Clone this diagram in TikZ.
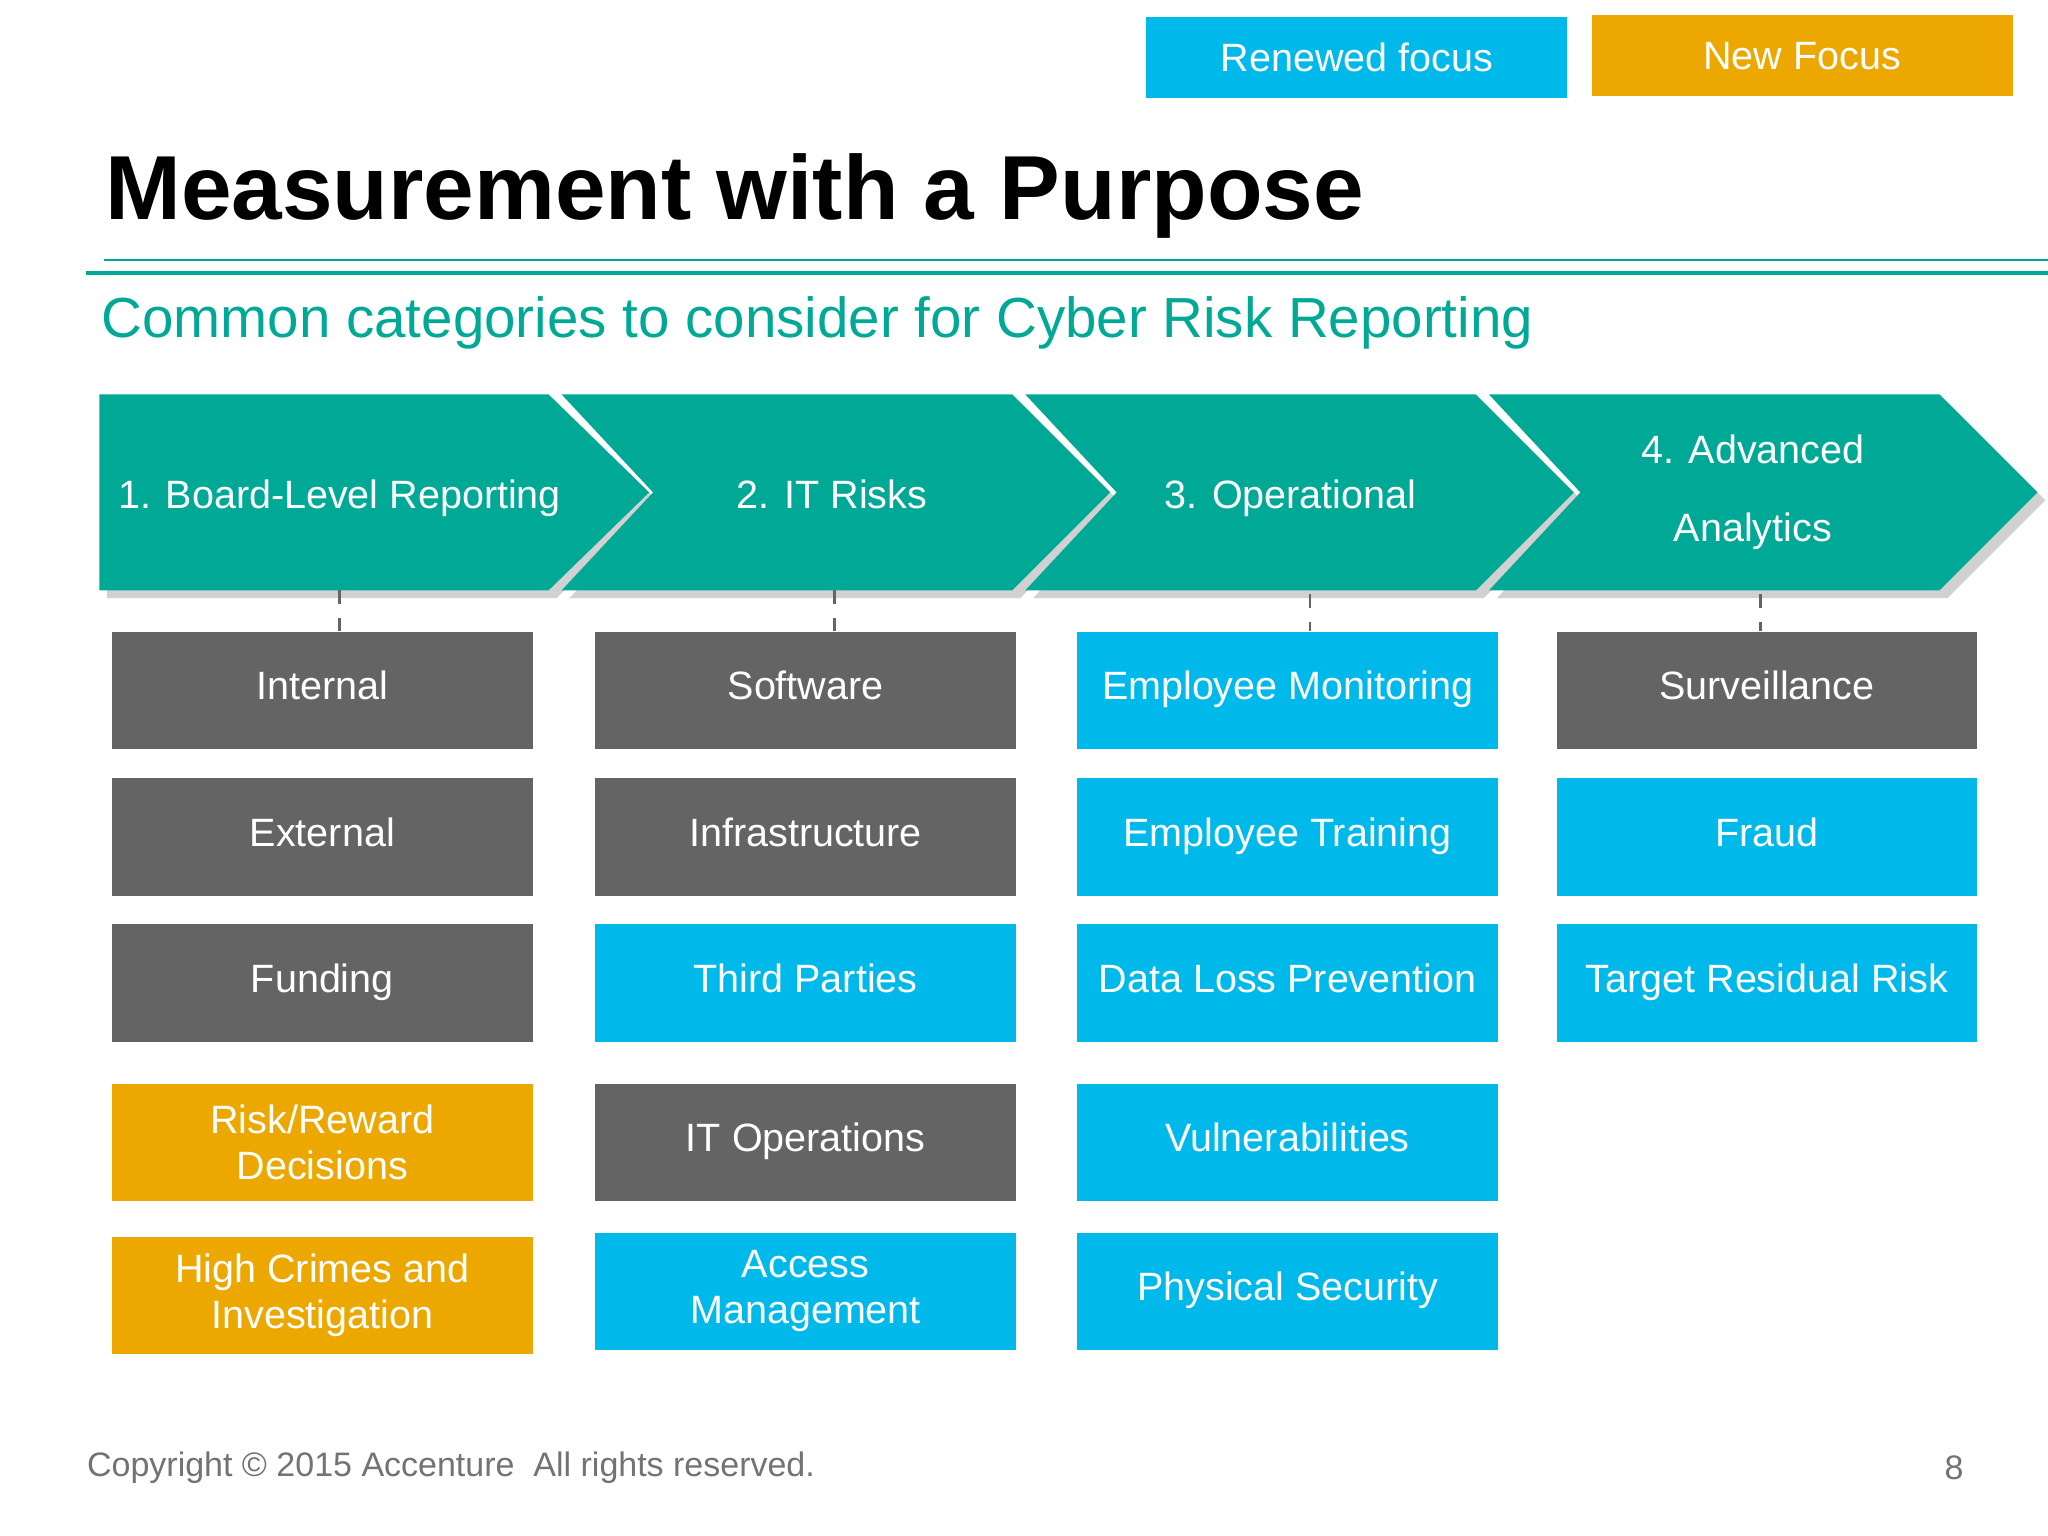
\documentclass[tikz,border=0pt]{standalone}
\usepackage{fontspec}
\setmainfont{Liberation Sans}
\definecolor{teal}{RGB}{0,169,150}
\definecolor{dgray}{RGB}{100,100,100}
\definecolor{lblue}{RGB}{0,185,235}
\definecolor{orng}{RGB}{236,168,0}
\begin{document}
\begin{tikzpicture}[x=0.01cm,y=-0.01cm,
 box/.style={minimum width=3.22cm,minimum height=0.9cm,inner sep=0pt,text=white,font=\fontsize{8.6}{10}\selectfont,align=center,anchor=north west},
 gbox/.style={box,fill=dgray},bbox/.style={box,fill=lblue},obox/.style={box,fill=orng},
 chev/.style={fill=teal},
 shad/.style={fill=black!18},
 ctext/.style={text=white,font=\fontsize{8.6}{17}\selectfont,align=center},
 conn/.style={dashed,dgray,line width=0.6pt}]
\fill[white] (0,0) rectangle (1568,1176);
\useasboundingbox (0,0) rectangle (1568,1176);
% legend
\node[bbox,minimum width=3.22cm,minimum height=0.62cm] (ren) at (877,12) {Renewed focus};
\node[obox,minimum width=3.22cm,minimum height=0.62cm] (new) at (1218,11) {New Focus};
% title
\node[anchor=west,font=\fontsize{19.8}{24}\bfseries\selectfont,inner sep=0pt] (title) at (80,150) {Measurement with a Purpose};
\draw[teal,line width=0.6pt] (80,199) -- (1568,199);
\draw[teal,line width=0.9pt] (66,209) -- (1568,209);
\node[anchor=west,text=teal,font=\fontsize{12.3}{15}\selectfont,inner sep=0pt] (sub) at (77,247) {Common categories to consider for Cyber Risk Reporting};
% chevrons shadows
\foreach \x in {430,785,1140}{
 \fill[shad] (\x+6,308)--(\x+351,308)--(\x+426,383)--(\x+351,458)--(\x+6,458)--(\x+76,383)--cycle;}
\fill[shad] (82,308)--(426,308)--(503,383)--(426,458)--(82,458)--cycle;
\fill[chev] (76,302)--(420,302)--(497,377)--(420,452)--(76,452)--cycle;
\foreach \x in {430,785,1140}{
 \fill[chev] (\x,302)--(\x+345,302)--(\x+420,377)--(\x+345,452)--(\x,452)--(\x+70,377)--cycle;}
\node[ctext] (c1) at (260,377) {1. Board-Level Reporting\strut};
\node[ctext] (c2) at (637,377) {2. IT Risks\strut};
\node[ctext] (c3) at (988,377) {3. Operational\strut};
\node[ctext] (c4) at (1342,377) {4. Advanced\\Analytics};
\coordinate (b1) at (260,452);\coordinate (b2) at (639,452);
\coordinate (b3) at (1003,455);\coordinate (b4) at (1348,455);
% column 1
\node[gbox] (a1) at (85,483) {Internal\strut};
\node[gbox] (a2) at (85,595) {External\strut};
\node[gbox] (a3) at (85,707) {Funding\strut};
\node[obox] (a4) at (85,829) {Risk/Reward\\Decisions};
\node[obox] (a5) at (85,946) {High Crimes and\\Investigation};
% column 2
\node[gbox] (s1) at (455,483) {Software\strut};
\node[gbox] (s2) at (455,595) {Infrastructure\strut};
\node[bbox] (s3) at (455,707) {Third Parties\strut};
\node[gbox] (s4) at (455,829) {IT Operations\strut};
\node[bbox] (s5) at (455,943) {Access\\Management};
% column 3
\node[bbox] (o1) at (824,483) {Employee Monitoring\strut};
\node[bbox] (o2) at (824,595) {Employee Training\strut};
\node[bbox] (o3) at (824,707) {Data Loss Prevention\strut};
\node[bbox] (o4) at (824,829) {Vulnerabilities\strut};
\node[bbox] (o5) at (824,943) {Physical Security\strut};
% column 4
\node[gbox] (d1) at (1191,483) {Surveillance\strut};
\node[bbox] (d2) at (1191,595) {Fraud\strut};
\node[bbox] (d3) at (1191,707) {Target Residual Risk\strut};
% connectors
\draw[conn] (b1) -- (b1|-a1.north);
\draw[conn] (b2) -- (b2|-s1.north);
\draw[conn] (b3) -- (b3|-o1.north);
\draw[conn] (b4) -- (b4|-d1.north);
% footer
\node[anchor=west,text=black!55,font=\fontsize{7.4}{9}\selectfont,inner sep=0pt] (copy) at (66,1124) {Copyright © 2015 Accenture\ \ All rights reserved.};
\node[text=black!55,font=\fontsize{7.4}{9}\selectfont,inner sep=0pt] (pg) at (1496,1124) {8};
\end{tikzpicture}
\end{document}
